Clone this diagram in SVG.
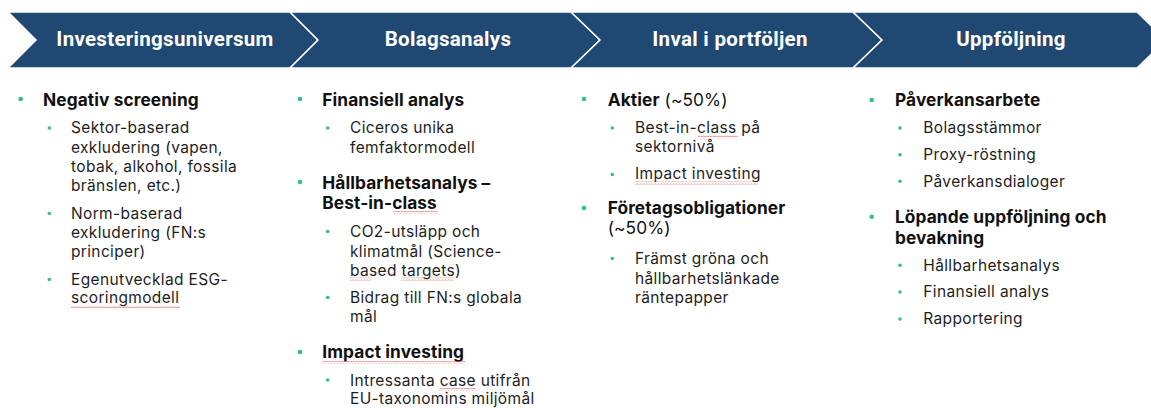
<svg xmlns="http://www.w3.org/2000/svg" width="1151" height="408" viewBox="0 0 1151 408">
<defs>
<style>
.band{fill:#1f4872;stroke:#ffffff;stroke-width:1.5;stroke-linejoin:miter}
.ht{font-family:Roboto,"Liberation Sans",sans-serif;font-weight:700;font-size:20.5px;fill:#ffffff;text-anchor:middle;letter-spacing:0.3px}
.b{font-family:Inter,"Noto Sans",sans-serif;font-weight:700;font-size:17.3px;fill:#111111;letter-spacing:0.1px}
.r{font-family:Inter,"Noto Sans",sans-serif;font-weight:400;font-size:15.5px;fill:#1e1e1e;letter-spacing:0.35px}
.rl{font-weight:400}
.d1{fill:#2cc38b}
.sq{fill:url(#sq)}
</style>
<pattern id="sq" patternUnits="userSpaceOnUse" width="3" height="3" x="0" y="0">
<path d="M0,2.3 L1.5,0.7 L3,2.3" fill="none" stroke="#e0413f" stroke-width="0.7"/>
</pattern>
</defs>
<rect width="1151" height="408" fill="#ffffff"/>

<g id="step1">
<polygon class="band" points="8,12 290,12 318,40 290,68 8,68 36,40"/>
<text class="ht" x="165" y="46">Investeringsuniversum</text>
</g>
<g id="step2">
<polygon class="band" points="290,12 571,12 600,40 571,68 290,68 318,40"/>
<text class="ht" x="448" y="46">Bolagsanalys</text>
</g>
<g id="step3">
<polygon class="band" points="571,12 853,12 882,40 853,68 571,68 600,40"/>
<text class="ht" x="730" y="46">Inval i portföljen</text>
</g>
<g id="step4">
<polygon class="band" points="853,12 1137,12 1166,40 1137,68 853,68 882,40"/>
<text class="ht" x="1011" y="46">Uppföljning</text>
</g>

<g id="col1">
<circle class="d1" cx="20.7" cy="99" r="2.3"/>
<text class="b" x="43" y="106">Negativ screening</text>
<circle class="d1" cx="49.3" cy="128" r="1.8"/>
<text class="r" x="71" y="133.3">Sektor-baserad</text>
<text class="r" x="71" y="152.7">exkludering (vapen,</text>
<text class="r" x="71" y="171.9">tobak, alkohol, fossila</text>
<text class="r" x="71" y="191.2">bränslen, etc.)</text>
<circle class="d1" cx="49.3" cy="213.5" r="1.8"/>
<text class="r" x="71" y="218.6">Norm-baserad</text>
<text class="r" x="71" y="237.9">exkludering (FN:s</text>
<text class="r" x="71" y="257.1">principer)</text>
<circle class="d1" cx="49.3" cy="279.5" r="1.8"/>
<text class="r" x="71" y="284.5">Egenutvecklad ESG-</text>
<text class="r" x="71" y="303.3">scoringmodell</text>
<rect class="sq" x="71" y="305.5" width="109" height="3"/>
</g>

<g id="col2">
<circle class="d1" cx="300" cy="99" r="2.3"/>
<text class="b" x="322.3" y="106">Finansiell analys</text>
<circle class="d1" cx="327.7" cy="128" r="1.8"/>
<text class="r" x="350" y="133.3">Ciceros unika</text>
<text class="r" x="350" y="152.5">femfaktormodell</text>
<circle class="d1" cx="300" cy="182" r="2.3"/>
<text class="b" x="322.3" y="189">Hållbarhetsanalys –</text>
<text class="b" x="322.3" y="209">Best-in-class</text>
<rect class="sq" x="393" y="211" width="45" height="3"/>
<circle class="d1" cx="327.7" cy="231.5" r="1.8"/>
<text class="r" x="350" y="237">CO2-utsläpp och</text>
<text class="r" x="350" y="256.5">klimatmål (Science-</text>
<text class="r" x="350" y="276">based targets)</text>
<rect class="sq" x="350" y="277.5" width="21" height="3"/>
<rect class="sq" x="401" y="277.5" width="53" height="3"/>
<circle class="d1" cx="327.7" cy="297.5" r="1.8"/>
<text class="r" x="350" y="303.3">Bidrag till FN:s globala</text>
<text class="r" x="350" y="322.3">mål</text>
<circle class="d1" cx="300" cy="352" r="2.3"/>
<text class="b" x="322.3" y="358.3">Impact investing</text>
<rect class="sq" x="322" y="361" width="143" height="3"/>
<circle class="d1" cx="327.7" cy="380" r="1.8"/>
<text class="r" x="350" y="385.7">Intressanta case utifrån</text>
<rect class="sq" x="439" y="388" width="37" height="3"/>
<text class="r" x="350" y="404.3">EU-taxonomins miljömål</text>
</g>

<g id="col3">
<circle class="d1" cx="584" cy="99" r="2.3"/>
<text class="b" x="607.7" y="106">Aktier<tspan class="rl"> (~50%)</tspan></text>
<circle class="d1" cx="612.3" cy="128" r="1.8"/>
<text class="r" x="635" y="133.3">Best-in-class på</text>
<rect class="sq" x="698" y="135.5" width="40" height="3"/>
<text class="r" x="635" y="151.7">sektornivå</text>
<circle class="d1" cx="612.3" cy="174.5" r="1.8"/>
<text class="r" x="635" y="179.3">Impact investing</text>
<rect class="sq" x="635" y="181.5" width="123" height="3"/>
<circle class="d1" cx="584" cy="208" r="2.3"/>
<text class="b" x="607.7" y="214">Företagsobligationer</text>
<text class="b rl" x="607.7" y="234">(~50%)</text>
<circle class="d1" cx="612.3" cy="258.5" r="1.8"/>
<text class="r" x="635" y="264.3">Främst gröna och</text>
<text class="r" x="635" y="284">hållbarhetslänkade</text>
<text class="r" x="635" y="302.7">räntepapper</text>
</g>

<g id="col4">
<circle class="d1" cx="871.7" cy="100" r="2.3"/>
<text class="b" x="895" y="106">Påverkansarbete</text>
<circle class="d1" cx="900" cy="128" r="1.8"/>
<text class="r" x="923.3" y="133.3">Bolagsstämmor</text>
<circle class="d1" cx="900" cy="154.7" r="1.8"/>
<text class="r" x="923.3" y="160">Proxy-röstning</text>
<circle class="d1" cx="900" cy="181.3" r="1.8"/>
<text class="r" x="923.3" y="186.7">Påverkansdialoger</text>
<circle class="d1" cx="871.7" cy="216.7" r="2.3"/>
<text class="b" x="895" y="223.3">Löpande uppföljning och</text>
<text class="b" x="895" y="244">bevakning</text>
<circle class="d1" cx="900" cy="265.3" r="1.8"/>
<text class="r" x="923.3" y="270.7">Hållbarhetsanalys</text>
<circle class="d1" cx="900" cy="292" r="1.8"/>
<text class="r" x="923.3" y="297.3">Finansiell analys</text>
<circle class="d1" cx="900" cy="319" r="1.8"/>
<text class="r" x="923.3" y="324.3">Rapportering</text>
</g>
</svg>
